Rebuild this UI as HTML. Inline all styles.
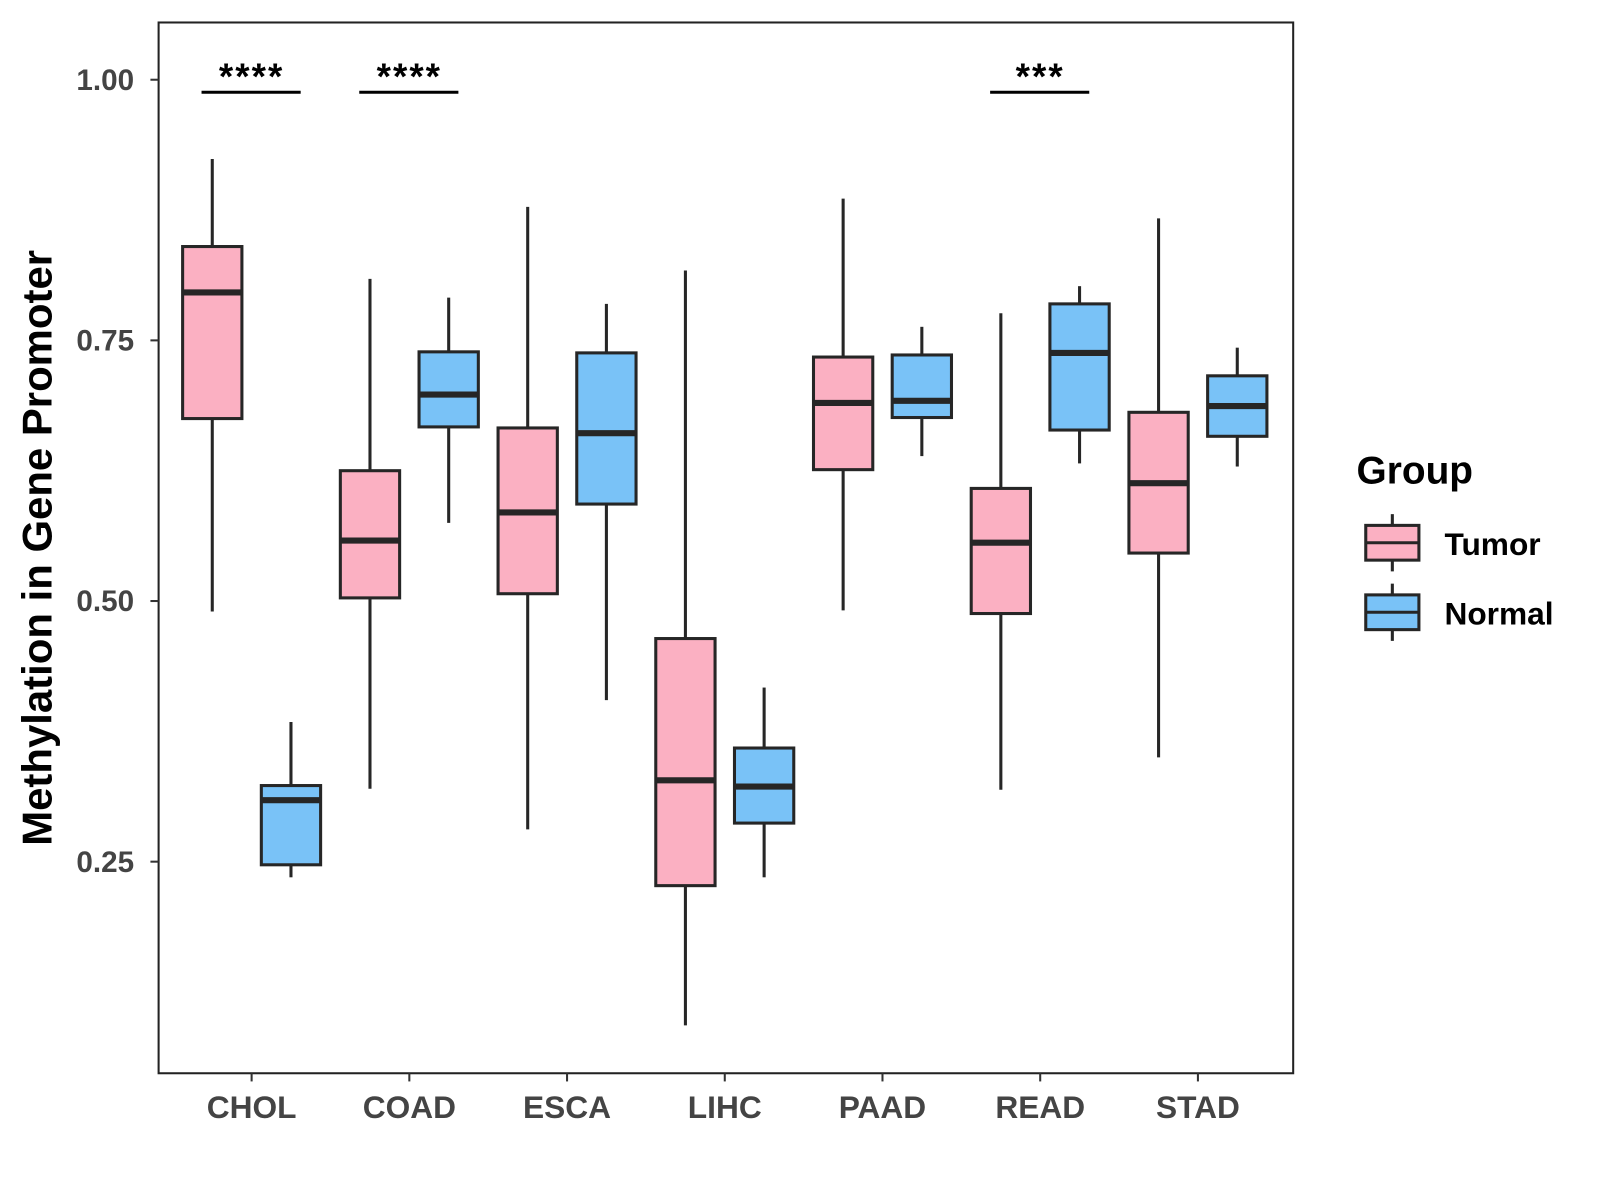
<!DOCTYPE html>
<html><head><meta charset="utf-8"><style>
body{margin:0;background:#fff;}
svg{display:block;font-family:"Liberation Sans",Arial,sans-serif;}
</style></head><body>
<svg id="chart" width="1600" height="1200" viewBox="0 0 1565 1174">
<rect x="155" y="22" width="1110" height="1028" fill="#fff" stroke="#222" stroke-width="2"/>
<g id="marks"></g>
<g id="axes"></g>
<text x="0" y="0" transform="translate(50,536) rotate(-90)" text-anchor="middle" font-size="41" font-weight="bold" fill="#000">Methylation in Gene Promoter</text>
<g>
<text x="1327" y="473" font-size="38" font-weight="bold">Group</text>
<g>
<line x1="1362" y1="503" x2="1362" y2="559" stroke="#262626" stroke-width="3"/>
<rect x="1336" y="514" width="52" height="34" fill="#FBB0C2" stroke="#262626" stroke-width="3"/>
<line x1="1336" y1="531" x2="1388" y2="531" stroke="#262626" stroke-width="3"/>
<text x="1413" y="543" font-size="31" font-weight="bold">Tumor</text>
</g>
<g>
<line x1="1362" y1="571" x2="1362" y2="627" stroke="#262626" stroke-width="3"/>
<rect x="1336" y="582" width="52" height="34" fill="#79C2F7" stroke="#262626" stroke-width="3"/>
<line x1="1336" y1="599" x2="1388" y2="599" stroke="#262626" stroke-width="3"/>
<text x="1413" y="611" font-size="31" font-weight="bold">Normal</text>
</g>
</g>
</svg>
<script>
const categories=["CHOL","COAD","ESCA","LIHC","PAAD","READ","STAD"];
// [lowWhisker, Q1, median, Q3, highWhisker]
const tumorStats=[[0.490,0.675,0.796,0.840,0.924],[0.320,0.503,0.558,0.625,0.809],[0.281,0.507,0.585,0.666,0.878],[0.093,0.227,0.328,0.464,0.817],[0.491,0.626,0.690,0.734,0.886],[0.319,0.488,0.556,0.608,0.776],[0.350,0.546,0.613,0.681,0.867]];
const normalStats=[[0.235,0.247,0.309,0.323,0.384],[0.575,0.667,0.698,0.739,0.791],[0.405,0.593,0.661,0.738,0.785],[0.235,0.287,0.322,0.359,0.417],[0.639,0.676,0.692,0.736,0.763],[0.632,0.664,0.738,0.785,0.802],[0.629,0.658,0.687,0.716,0.743]];
const yTicks=[0.25,0.50,0.75,1.00];
const yTickLabels=["0.25","0.50","0.75","1.00"];
const sigCategories=["CHOL","COAD","READ"];
const sigLabels=["****","****","***"];
const sigLevel=[0.988];

const NS="http://www.w3.org/2000/svg";
function y(v){return 78+(1-v)*1020;}
function x(i){return 246+i*154.3;}
function mk(tag,attrs,parent){const e=document.createElementNS(NS,tag);for(const k in attrs)e.setAttribute(k,attrs[k]);parent.appendChild(e);return e;}
const marks=document.getElementById('marks'),axes=document.getElementById('axes');
const S="#262626";
function drawBox(cx,s,fill,name){
  const g=mk('g',{},marks);
  
  
  const w=29;
  mk('line',{x1:cx,x2:cx,y1:y(s[4]),y2:y(s[3]),stroke:S,'stroke-width':3},g);
  mk('line',{x1:cx,x2:cx,y1:y(s[1]),y2:y(s[0]),stroke:S,'stroke-width':3},g);
  mk('rect',{x:cx-w,y:y(s[3]),width:2*w,height:y(s[1])-y(s[3]),fill:fill,stroke:S,'stroke-width':3},g);
  mk('line',{x1:cx-w,x2:cx+w,y1:y(s[2]),y2:y(s[2]),stroke:S,'stroke-width':6},g);
}
categories.forEach((c,i)=>{
  drawBox(x(i)-38.5,tumorStats[i],"#FBB0C2","box-tumor-"+c.toLowerCase());
  drawBox(x(i)+38.5,normalStats[i],"#79C2F7","box-normal-"+c.toLowerCase());
  mk('line',{x1:x(i),x2:x(i),y1:1050,y2:1058,stroke:"#333",'stroke-width':2},axes);
  const t=mk('text',{x:x(i),y:1094,'text-anchor':'middle','font-size':31,'font-weight':'bold',fill:'#444'},axes);
  t.textContent=c;
  
  
});
yTicks.forEach((v,i)=>{
  mk('line',{x1:147,x2:155,y1:y(v),y2:y(v),stroke:"#333",'stroke-width':2},axes);
  const t=mk('text',{x:131,y:y(v)+10,'text-anchor':'end','font-size':29,'font-weight':'bold',fill:'#444'},axes);
  t.textContent=yTickLabels[i];
  
  
});
sigCategories.forEach((c,k)=>{
  const i=categories.indexOf(c);
  const g=mk('g',{},marks);
  
  
  mk('line',{x1:x(i)-49,x2:x(i)+48,y1:y(sigLevel[0]),y2:y(sigLevel[0]),stroke:"#000",'stroke-width':3},g);
  const t=mk('text',{x:x(i),y:y(sigLevel[0])-3,'text-anchor':'middle','font-size':36,'font-weight':'bold','letter-spacing':2},g);
  t.textContent=sigLabels[k];
});
</script>
</body></html>
